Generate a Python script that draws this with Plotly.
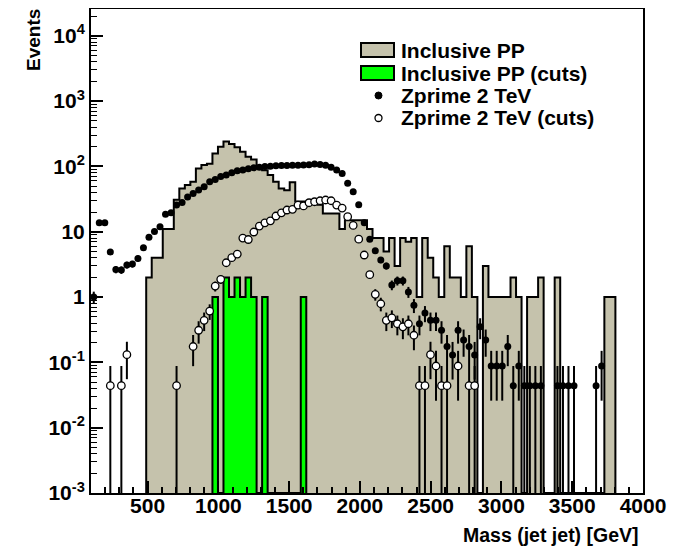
import math
import plotly.graph_objects as go

# ---------------- data ----------------
X_MIN = 100.0          # histogram lower edge [GeV]
BIN_WIDTH = 39.0       # 100 bins from 100 to 4000 GeV
ZP_WEIGHT = 0.0438     # per-event weight of the Zprime sample (for Poisson errors)

x_tick_vals = [500, 1000, 1500, 2000, 2500, 3000, 3500, 4000]
x_tick_text = ["500", "1000", "1500", "2000", "2500", "3000", "3500", "4000"]
y_tick_vals = [1e-3, 1e-2, 1e-1, 1, 10, 100, 1000, 10000]
y_tick_text = ["10<sup>-3</sup>", "10<sup>-2</sup>", "10<sup>-1</sup>", "1", "10",
               "10<sup>2</sup>", "10<sup>3</sup>", "10<sup>4</sup>"]

series_names = ["Inclusive PP", "Inclusive PP (cuts)", "Zprime 2 TeV", "Zprime 2 TeV (cuts)"]

# Inclusive PP, bins 10..94
pp_first_bin = 10
pp_counts = [2, 4, 4, 11, 11, 31, 46, 52, 58, 93,
             105, 110, 158, 200, 240, 220, 197, 167, 141, 128,
             99, 87, 74, 58, 46, 43, 57, 29, 29, 29,
             29, 26, 19, 19, 19, 11, 15, 15, 15, 15,
             11, 8, 8, 5, 8, 3, 8, 7, 8, 1,
             8, 4, 2, 1, 6, 2, 2, 1, 6, 1,
             0, 3, 1, 1, 1, 1, 2, 1, 0, 1,
             1, 2, 0, 0, 2, 0, 0, 0, 0, 0,
             0, 0, 0, 1, 1]

# Inclusive PP (cuts), bins 22..38
ppc_first_bin = 22
ppc_counts = [1, 0, 2, 1, 2, 1, 2, 1, 0, 1, 0, 0, 0, 0, 0, 0, 1]

# Zprime 2 TeV, bins 0..92
zp_first_bin = 0
zp_values = [1.0, 13.7, 13.7, 4.9, 2.65, 2.6, 3.1, 3.2, 3.9, 5.7,
             8.2, 10.1, 11.9, 18.5, 19.5, 25.6, 28, 34, 38.6, 43.5,
             49, 58, 63, 70, 74, 80, 86, 88, 92, 95,
             97, 100, 101, 102, 103, 103, 104, 104, 105, 106,
             109, 107, 104, 97, 88, 78, 55, 41, 26, 13.7,
             7.7, 5.1, 3.7, 3.0, 1.53, 1.78, 1.78, 1.2, 0.75, 0.39,
             0.57, 0.44, 0.44, 0.31, 0.175, 0.13, 0.31, 0.22, 0.175, 0.13,
             0.35, 0.22, 0.088, 0.088, 0.088, 0.175, 0.044, 0.088, 0.044, 0.044,
             0.044, 0.044, 0, 0, 0.044, 0.044, 0.044, 0.044, 0, 0,
             0, 0.044, 0.088]

# Zprime 2 TeV (cuts), bins 3..69
zpc_first_bin = 3
zpc_values = [0.044, 0, 0.044, 0.131, 0, 0, 0, 0, 0, 0,
              0, 0, 0.044, 0, 0, 0.175, 0.31, 0.44, 0.61, 1.47,
              1.87, 3.35, 4.0, 4.55, 8.0, 7.6, 9.9, 12.2, 13.7, 14.7,
              17.4, 19.5, 21.5, 22, 25.6, 24.8, 27.8, 28.8, 29.8, 30.6,
              29.8, 25.6, 23, 17, 12.5, 7.7, 4.4, 2.2, 1.1, 0.79,
              0.44, 0.48, 0.39, 0.35, 0.39, 0.26, 0.044, 0.044, 0.131, 0.088,
              0.044, 0.044, 0, 0.088, 0, 0.044, 0.044]

# ---------------- style ----------------
Y_LOG_MIN, Y_LOG_MAX = -3.0, 4.41
FLOOR = 10 ** Y_LOG_MIN
GRAY = "rgb(197,194,172)"
GREEN = "rgb(0,255,0)"
FONT = "Liberation Sans, Arial, Helvetica, sans-serif"
OFF = 8                      # page body margin offset (px)
W, H = 679 - OFF, 550 - OFF
ML, MR, MT, MB = 91 - OFF, 36, 9 - OFF, 57
PW, PH = W - ML - MR, H - MT - MB


def step_xy(first, vals):
    xs = [X_MIN + BIN_WIDTH * first]
    ys = [FLOOR]
    for i, v in enumerate(vals):
        xs.append(X_MIN + BIN_WIDTH * (first + i))
        ys.append(v if v > 0 else FLOOR)
    xs.append(X_MIN + BIN_WIDTH * (first + len(vals)))
    ys.append(FLOOR)
    return xs, ys


def points(first, vals):
    xs, ys, up, dn = [], [], [], []
    for i, v in enumerate(vals):
        if v <= 0:
            continue
        xs.append(X_MIN + BIN_WIDTH * (first + i + 0.5))
        ys.append(v)
        e = math.sqrt(v * ZP_WEIGHT)
        up.append(e)
        dn.append(min(e, v - FLOOR))
    return xs, ys, up, dn


fig = go.Figure()

hx, hy = step_xy(pp_first_bin, pp_counts)
fig.add_trace(go.Scatter(x=hx, y=hy, mode="lines", line=dict(shape="hv", color="black", width=2),
                         fill="toself", fillcolor=GRAY, name=series_names[0],
                         showlegend=False, hoverinfo="skip"))

gx, gy = step_xy(ppc_first_bin, ppc_counts)
fig.add_trace(go.Scatter(x=gx, y=gy, mode="lines", line=dict(shape="hv", color="black", width=2),
                         fill="toself", fillcolor=GREEN, name=series_names[1],
                         showlegend=False, hoverinfo="skip"))

px_, py_, pu, pd = points(zp_first_bin, zp_values)
fig.add_trace(go.Scatter(x=px_, y=py_, mode="markers", name=series_names[2], showlegend=False,
                         marker=dict(symbol="circle", size=7, color="black"),
                         error_y=dict(type="data", array=pu, arrayminus=pd, symmetric=False,
                                      color="black", thickness=2, width=0)))

cx, cy, cu, cd = points(zpc_first_bin, zpc_values)
fig.add_trace(go.Scatter(x=cx, y=cy, mode="markers", name=series_names[3], showlegend=False,
                         marker=dict(symbol="circle", size=7.5, color="white",
                                     line=dict(color="black", width=1.3)),
                         error_y=dict(type="data", array=cu, arrayminus=cd, symmetric=False,
                                      color="black", thickness=2, width=0)))

# minor ticks
x_minor = [v for v in range(200, 4000, 100) if v % 500 != 0]
y_minor = [m * 10 ** e for e in range(-3, 5) for m in range(2, 10) if m * 10 ** e < 10 ** Y_LOG_MAX]

fig.update_xaxes(range=[X_MIN, 4000], tickmode="array", tickvals=x_tick_vals, ticktext=x_tick_text,
                 ticks="inside", ticklen=12, tickwidth=1.5, tickcolor="black",
                 showline=True, linewidth=2, linecolor="black", mirror=True,
                 showgrid=False, zeroline=False, layer="above traces", automargin=False,
                 ticklabelstandoff=-7,
                 tickfont=dict(family=FONT, size=21, color="black", weight="bold"),
                 minor=dict(tickmode="array", tickvals=x_minor, ticks="inside", ticklen=6,
                            tickwidth=1.5, tickcolor="black", showgrid=False))
fig.update_yaxes(type="log", range=[Y_LOG_MIN, Y_LOG_MAX], tickmode="array", tickvals=y_tick_vals,
                 ticktext=y_tick_text, ticks="inside", ticklen=12, tickwidth=1.5, tickcolor="black",
                 showline=True, linewidth=2, linecolor="black", mirror=True,
                 showgrid=False, zeroline=False, layer="above traces", automargin=False,
                 tickfont=dict(family=FONT, size=21, color="black", weight="bold"),
                 minor=dict(tickmode="array", tickvals=y_minor, ticks="inside", ticklen=6,
                            tickwidth=1.2, tickcolor="black", showgrid=False))


def xp(px):
    """page pixel x -> paper fraction"""
    return (px - OFF - ML) / PW


def yp(py):
    """page pixel y -> paper fraction"""
    return (MT + PH - (py - OFF)) / PH


annotations = [
    dict(text="Mass (jet jet) [GeV]", x=xp(641), y=yp(535), xref="paper", yref="paper",
         xanchor="right", yanchor="middle", showarrow=False,
         font=dict(family=FONT, size=19.5, color="black", weight="bold")),
    dict(text="Events", x=xp(34), y=yp(7), xref="paper", yref="paper", textangle=-90,
         xanchor="center", yanchor="top", showarrow=False,
         font=dict(family=FONT, size=19, color="black", weight="bold")),
]
shapes = []
legend_rows = [50, 73, 95.5, 118]
for name, row in zip(series_names, legend_rows):
    annotations.append(dict(text=name, x=xp(399), y=yp(row), xref="paper", yref="paper",
                            xanchor="left", yanchor="middle", showarrow=False,
                            font=dict(family=FONT, size=21, color="black", weight="bold")))
shapes.append(dict(type="rect", xref="paper", yref="paper", x0=xp(361), x1=xp(394),
                   y0=yp(legend_rows[0] - 7), y1=yp(legend_rows[0] + 7),
                   fillcolor=GRAY, line=dict(color="black", width=2)))
shapes.append(dict(type="rect", xref="paper", yref="paper", x0=xp(361), x1=xp(394),
                   y0=yp(legend_rows[1] - 7), y1=yp(legend_rows[1] + 7),
                   fillcolor=GREEN, line=dict(color="black", width=2)))
shapes.append(dict(type="circle", xref="paper", yref="paper", x0=xp(375), x1=xp(382),
                   y0=yp(legend_rows[2] - 3.5), y1=yp(legend_rows[2] + 3.5),
                   fillcolor="black", line=dict(color="black", width=1)))
shapes.append(dict(type="circle", xref="paper", yref="paper", x0=xp(375), x1=xp(382),
                   y0=yp(legend_rows[3] - 3.5), y1=yp(legend_rows[3] + 3.5),
                   fillcolor="white", line=dict(color="black", width=1.3)))

fig.update_layout(width=W, height=H, margin=dict(l=ML, r=MR, t=MT, b=MB, autoexpand=False),
                  paper_bgcolor="white", plot_bgcolor="white", showlegend=False,
                  annotations=annotations, shapes=shapes)

fig.write_html("out.html")
